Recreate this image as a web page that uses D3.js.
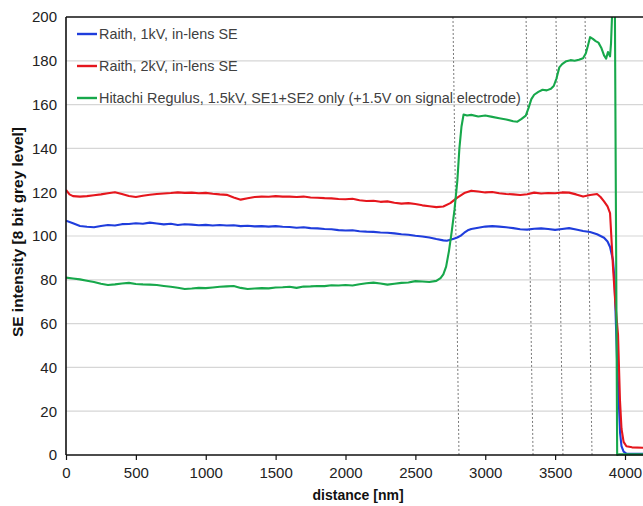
<!DOCTYPE html>
<html>
<head>
<meta charset="utf-8">
<script src="https://cdn.jsdelivr.net/npm/d3@7"></script>
<style>
  body { margin: 0; background: #fff; }
  text { font-family: "Liberation Sans", Arial, sans-serif; }
</style>
</head>
<body>
<div id="chart"></div>
<script>
// series: [distance nm, SE intensity]
var raith1kV = [
  [0,107],[50,105.8],[100,104.6],[150,104.2],[200,104],[250,104.6],[300,105],[350,104.8],[400,105.4],[450,105.5],
  [500,105.8],[550,105.6],[600,106.1],[650,105.7],[700,105.3],[750,105.6],[800,105],[850,105.4],[900,105.2],[950,104.9],
  [1000,105.1],[1050,104.8],[1100,105],[1150,104.8],[1200,104.9],[1250,104.5],[1300,104.7],[1350,104.4],[1400,104.5],[1450,104.3],
  [1500,104.5],[1550,104.2],[1600,104.1],[1650,103.8],[1700,104],[1750,103.6],[1800,103.5],[1850,103.2],[1900,103.1],[1950,102.7],
  [2000,102.5],[2050,102.6],[2100,102.2],[2150,102],[2200,101.9],[2250,101.6],[2300,101.5],[2350,101.2],[2400,100.8],[2450,100.6],
  [2500,100.1],[2550,99.8],[2600,99.3],[2650,98.6],[2700,98],[2725,97.8],[2750,98.3],[2775,98.8],[2800,99.3],[2825,100.2],
  [2850,101.5],[2875,102.6],[2900,103.2],[2950,103.8],[3000,104.3],[3050,104.5],[3100,104.3],[3150,104],[3200,103.6],[3250,103.1],
  [3300,102.9],[3350,103.3],[3400,103.5],[3450,103.2],[3500,102.8],[3550,103.2],[3600,103.6],[3650,103],[3700,102.3],[3750,101.8],
  [3800,100.8],[3850,99.2],[3875,97.5],[3893,95],[3914,89],[3925,80],[3935,60],[3945,40],[3955,25],[3965,10],
  [3975,4],[3990,1.5],[4010,0.6],[4140,0.5]
];
var raith2kV = [
  [0,121],[25,119],[50,118.2],[100,118],[150,118.2],[200,118.6],[250,119],[300,119.5],[350,120],[400,119.2],
  [450,118.3],[500,117.8],[550,118.4],[600,118.8],[650,119.2],[700,119.4],[750,119.6],[800,119.9],[850,119.7],[900,119.8],
  [950,119.5],[1000,119.7],[1050,119.3],[1100,119],[1150,118.8],[1200,117.6],[1250,116.6],[1300,117.2],[1350,117.8],[1400,118],
  [1450,117.9],[1500,118.2],[1550,118],[1600,118],[1650,117.8],[1700,118],[1750,117.6],[1800,117.5],[1850,117.3],[1900,117.2],
  [1950,116.9],[2000,116.8],[2050,117],[2100,116.3],[2150,116],[2200,116.1],[2250,115.6],[2300,115.8],[2350,115.2],[2400,114.8],
  [2450,115],[2500,114.6],[2550,114],[2600,113.6],[2650,113.2],[2700,113.5],[2750,115],[2800,117.5],[2850,119.6],[2900,120.7],
  [2950,120.3],[3000,119.9],[3050,120.1],[3100,119.5],[3150,119.2],[3200,119],[3250,118.7],[3300,119.1],[3350,119.8],[3400,119.4],
  [3450,119.6],[3500,119.5],[3550,119.9],[3600,119.8],[3650,119],[3700,118],[3750,118.7],[3800,119.2],[3825,117.8],[3850,115.8],
  [3875,113.5],[3893,110.5],[3914,86],[3930,70],[3950,55],[3964,25],[3975,12],[3990,6],[4010,4],[4050,3.5],[4140,3.3]
];
var regulus = [
  [0,81],[50,80.6],[100,80.2],[150,79.6],[200,79],[250,78.2],[300,77.6],[350,77.9],[400,78.3],[450,78.6],
  [500,78.1],[550,77.9],[600,77.8],[650,77.6],[700,77.2],[750,76.8],[800,76.4],[850,75.8],[900,76],[950,76.3],
  [1000,76.2],[1050,76.5],[1100,76.8],[1150,77],[1200,77.2],[1250,76.3],[1300,75.8],[1350,76],[1400,76.2],[1450,76.1],
  [1500,76.5],[1550,76.6],[1600,76.8],[1650,76.3],[1700,76.9],[1750,77],[1800,77.2],[1850,77.1],[1900,77.5],[1950,77.4],
  [2000,77.6],[2050,77.4],[2100,78],[2150,78.4],[2200,78.7],[2250,78.3],[2300,77.8],[2350,78.2],[2400,78.6],[2450,78.8],
  [2500,79.4],[2550,79.2],[2600,79],[2650,79.5],[2680,80.8],[2700,82.5],[2720,86],[2740,93],[2760,102],[2780,112],
  [2800,125],[2815,140],[2830,150],[2845,155.5],[2870,155],[2900,155.3],[2950,154.6],[3000,155],[3050,154.4],[3100,153.8],
  [3150,153.2],[3200,152.4],[3230,152.2],[3260,153.5],[3290,155],[3310,158.5],[3330,162.5],[3350,164.5],[3380,165.8],[3410,166.8],
  [3440,166.5],[3470,167.2],[3490,168.5],[3510,172],[3530,177],[3550,178.5],[3580,179.8],[3610,180.3],[3640,180],[3670,180.5],
  [3700,181.2],[3720,183.5],[3735,187],[3750,190.8],[3770,190],[3790,189],[3810,188.3],[3830,186],[3850,182.5],[3865,181],
  [3878,184],[3893,182],[3900,188],[3907,200],[3914,225],[3921,225],[3928,200],[3944,0],[3960,0.3],[4140,0.3]
];

var seriesNames = ["Raith, 1kV, in-lens SE", "Raith, 2kV, in-lens SE",
  "Hitachi Regulus, 1.5kV, SE1+SE2 only (+1.5V on signal electrode)"];
var seriesColors = ["#1f3ddc", "#e5161d", "#17a84b"];

// dashed markers, slightly tilted in the scan: [x at top, x at bottom]
var markerLines = [[2769, 2812], [3292, 3342], [3506, 3556], [3714, 3764]];

var xTicks = [0, 500, 1000, 1500, 2000, 2500, 3000, 3500, 4000];
var yTicks = [0, 20, 40, 60, 80, 100, 120, 140, 160, 180, 200];

var width = 643,
    height = 506,
    margin = { top: 17, right: 0, bottom: 51, left: 66 };
var innerW = width - margin.left - margin.right,
    innerH = height - margin.top - margin.bottom;

var x = d3.scaleLinear().domain([0, 4000]).range([0, 559]);
var y = d3.scaleLinear().domain([0, 200]).range([innerH, 0]);

var svg = d3.select("#chart").append("svg")
    .attr("width", width)
    .attr("height", height);

var g = svg.append("g")
    .attr("transform", "translate(" + margin.left + "," + margin.top + ")");

g.append("defs").append("clipPath")
    .attr("id", "clip")
    .append("rect")
    .attr("x", 0)
    .attr("y", 0)
    .attr("width", innerW)
    .attr("height", innerH + 2);

// horizontal gridlines
g.append("g")
    .attr("class", "grid")
    .selectAll("line")
    .data(yTicks.filter(function (d) { return d > 0 && d < 200; }))
    .enter().append("line")
    .attr("x1", 0)
    .attr("x2", innerW)
    .attr("y1", function (d) { return y(d); })
    .attr("y2", function (d) { return y(d); })
    .style("stroke", "#d6d6d6")
    .style("stroke-width", 1.2);

// dashed vertical markers
g.append("g")
    .selectAll("line")
    .data(markerLines)
    .enter().append("line")
    .attr("x1", function (d) { return x(d[0]); })
    .attr("x2", function (d) { return x(d[1]); })
    .attr("y1", 0)
    .attr("y2", innerH)
    .style("stroke", "#7a7a7a")
    .style("stroke-width", 1)
    .style("stroke-dasharray", "2,2");

var line = d3.line()
    .x(function (d) { return x(d[0]); })
    .y(function (d) { return y(d[1]); });

var allSeries = [raith1kV, raith2kV, regulus];

g.append("g")
    .attr("clip-path", "url(#clip)")
    .selectAll("path")
    .data(allSeries)
    .enter().append("path")
    .attr("d", line)
    .style("fill", "none")
    .style("stroke", function (d, i) { return seriesColors[i]; })
    .style("stroke-width", 2.1)
    .style("stroke-linejoin", "round");

// axes
var xAxis = g.append("g")
    .attr("transform", "translate(0," + innerH + ")")
    .call(d3.axisBottom(x).tickValues(xTicks).tickFormat(d3.format("d"))
        .tickSize(5).tickPadding(7).tickSizeOuter(0));
xAxis.select(".domain").remove();
xAxis.append("line")
    .attr("x1", 0).attr("x2", innerW)
    .style("stroke", "#111").style("stroke-width", 1.6);

var yAxis = g.append("g")
    .call(d3.axisLeft(y).tickValues(yTicks).tickSize(0).tickPadding(9));
yAxis.select(".domain").remove();
yAxis.append("line")
    .attr("y1", 0).attr("y2", innerH)
    .style("stroke", "#111").style("stroke-width", 1.6);

// top border
g.append("line")
    .attr("x1", 0).attr("x2", innerW)
    .attr("y1", 0).attr("y2", 0)
    .style("stroke", "#111").style("stroke-width", 1.6);

g.selectAll(".tick line").style("stroke", "#111").style("stroke-width", 1.2);
g.selectAll(".tick text")
    .style("font-family", "'Liberation Sans', Arial, sans-serif")
    .style("font-size", "15px")
    .style("fill", "#222");

// legend
var legend = g.append("g").attr("transform", "translate(11,17)");
var item = legend.selectAll("g")
    .data(seriesNames)
    .enter().append("g")
    .attr("transform", function (d, i) { return "translate(0," + (i * 32) + ")"; });
item.append("line")
    .attr("x1", 0).attr("x2", 20)
    .style("stroke", function (d, i) { return seriesColors[i]; })
    .style("stroke-width", 2.4);
item.append("text")
    .attr("x", 22)
    .attr("dy", "0.35em")
    .style("font-size", "14.4px")
    .style("fill", "#404040")
    .text(function (d) { return d; });

// axis titles
g.append("text")
    .attr("transform", "rotate(-90)")
    .attr("x", -215)
    .attr("y", -43)
    .attr("textLength", 210)
    .attr("lengthAdjust", "spacingAndGlyphs")
    .style("text-anchor", "middle")
    .style("font-size", "15px")
    .style("font-weight", "bold")
    .style("fill", "#111")
    .text("SE intensity [8 bit grey level]");

g.append("text")
    .attr("x", x(2090))
    .attr("y", innerH + 45)
    .attr("textLength", 91)
    .attr("lengthAdjust", "spacingAndGlyphs")
    .style("text-anchor", "middle")
    .style("font-size", "15px")
    .style("font-weight", "bold")
    .style("fill", "#111")
    .text("distance [nm]");
</script>
</body>
</html>
